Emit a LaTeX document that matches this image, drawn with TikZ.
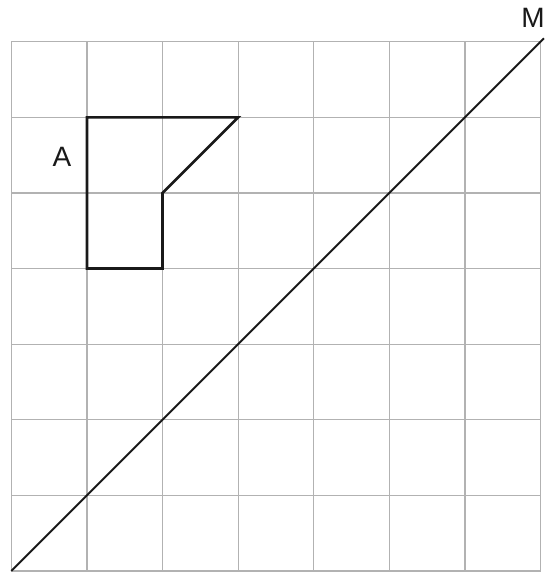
\documentclass[tikz,border=0pt]{standalone}
\usepackage{fontspec}
\setmainfont{Liberation Sans}
\begin{document}
\begin{tikzpicture}[x=75.6pt,y=75.6pt,
  gridline/.style={draw=black!30,line width=1.2pt},
  shapeline/.style={draw=black!90,line width=2.7pt,line join=miter},
  mirror/.style={draw=black!90,line width=2pt},
  lbl/.style={font=\fontsize{28pt}{30pt}\selectfont,text=black!90,inner sep=0pt}]
\useasboundingbox (-11.3pt,-1pt) rectangle (532.7pt,571pt);
\draw[gridline,step=75.6pt] (0,0) grid (7,7);
\coordinate (m0) at (0,0);
\coordinate (m1) at (532.7pt,532.7pt);
\draw[mirror] (m0) -- (m1);
\draw[shapeline] (1,6) -- (3,6) -- (2,5) -- (2,4) -- (1,4) -- cycle;
\node[lbl] (A) at (50.7pt,414pt) {A};
\node[lbl] (M) at (521.7pt,553pt) {M};
\end{tikzpicture}
\end{document}
